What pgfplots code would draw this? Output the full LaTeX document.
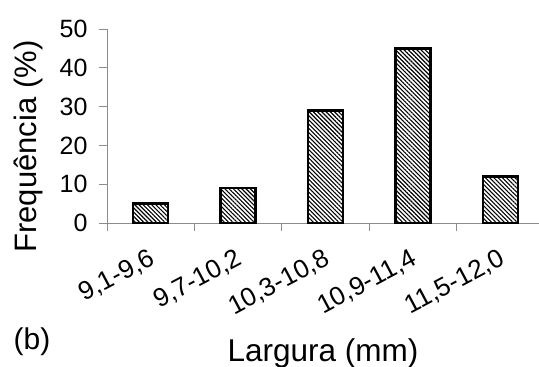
\documentclass[border=0pt]{standalone}
\usepackage{fontspec}
\setmainfont{Liberation Sans}
\usepackage{pgfplots}
\pgfplotsset{compat=1.18}
\usetikzlibrary{patterns.meta}
\begin{document}
\begin{tikzpicture}
\begin{axis}[
  at={(0,0)}, anchor=south west,
  scale only axis, width=432pt, height=194pt,
  xmin=-0.5, xmax=4.44, ymin=0, ymax=50,
  axis x line=bottom, axis y line=left,
  axis line style={-, draw=black!45, line width=0.9pt},
  tick align=outside,
  major tick length=8pt, minor tick length=8pt,
  tick style={draw=black!45, line width=0.9pt},
  ytick={0,10,...,50},
  xtick={0,1,2,3,4},
  xtick style={draw=none},
  minor xtick={-0.5,0.5,1.5,2.5,3.5},
  minor x tick style={draw=black!45, line width=0.9pt},
  xticklabels={{9,1-9,6},{9,7-10,2},{10,3-10,8},{10,9-11,4},{11,5-12,0}},
  /pgf/number format/assume math mode=true,
  yticklabel style={font=\fontsize{25}{29}\selectfont, xshift=-8pt},
  xticklabel style={font=\fontsize{26}{30}\selectfont, rotate=28, anchor=east, xshift=-7pt, yshift=-24pt},
  xlabel={Largura (mm)},
  ylabel={Frequência (\%)},
  xlabel style={font=\fontsize{31.5}{36}\selectfont, at={(axis description cs:0.5,-0.67)}, anchor=center},
  ylabel style={font=\fontsize{31}{36}\selectfont, at={(axis description cs:-0.183,0.394)}, anchor=center},
  clip=false,
]
\addplot[ybar, bar width=35pt, draw=black, line width=2.5pt,
  pattern={Lines[angle=-45, distance=3pt, line width=1.1pt]}, pattern color=black]
  coordinates {(0,5) (1,9) (2,29) (3,45) (4,12)};
\end{axis}
\node[font=\fontsize{30}{35}\selectfont] at (-75pt,-119pt) {(b)};
\pgfresetboundingbox
\path (-107pt,-144pt) rectangle (432pt,223pt);
\end{tikzpicture}
\end{document}
